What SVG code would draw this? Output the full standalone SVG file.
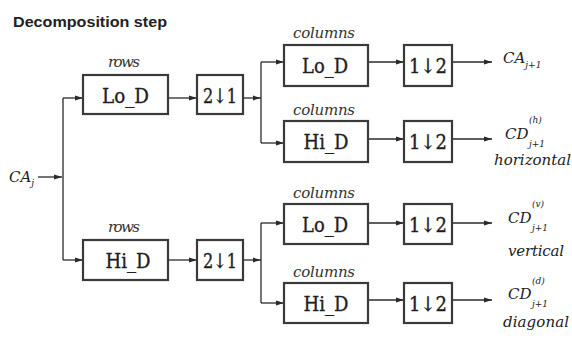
<svg xmlns="http://www.w3.org/2000/svg" width="572" height="338" viewBox="0 0 572 338">
  <style>
    .box { fill: #ffffff; stroke: #3a3a3a; stroke-width: 2.2; }
    .wire { fill: none; stroke: #2a2a2a; stroke-width: 1.3; }
    .op { font-family: "DejaVu Serif", "Liberation Serif", serif; font-size: 20px; fill: #1e1e1e; stroke: #1e1e1e; stroke-width: 0.35; text-anchor: middle; }
    .lbl { font-family: "DejaVu Serif", "Liberation Serif", serif; font-style: italic; font-size: 15px; fill: #333; text-anchor: middle; }
    .sig { font-family: "DejaVu Serif", "Liberation Serif", serif; font-style: italic; font-size: 15px; fill: #222; }
    .sub { font-size: 9px; }
    .title { font-family: "Liberation Sans", Arial, sans-serif; font-weight: bold; font-size: 15px; fill: #222; }
  </style>
  <defs>
    <marker id="arr" viewBox="0 0 8 6" refX="8" refY="3" markerWidth="8" markerHeight="6" markerUnits="userSpaceOnUse" orient="auto">
      <path d="M0,0.6 L8,3 L0,5.4 Z" fill="#2a2a2a"/>
    </marker>
  </defs>

  <text class="title" x="13" y="27" textLength="154" lengthAdjust="spacingAndGlyphs">Decomposition step</text>

  <!-- connectors -->
  <g id="connectors">
    <path class="wire" d="M38,177 H62" marker-end="url(#arr)"/>
    <path class="wire" d="M63,98 V260"/>
    <path class="wire" d="M63,98 H83" marker-end="url(#arr)"/>
    <path class="wire" d="M63,260 H83" marker-end="url(#arr)"/>
    <path class="wire" d="M168,98 H197" marker-end="url(#arr)"/>
    <path class="wire" d="M168,260 H197" marker-end="url(#arr)"/>
    <path class="wire" d="M243,98 H261" marker-end="url(#arr)"/>
    <path class="wire" d="M243,260 H261" marker-end="url(#arr)"/>
    <path class="wire" d="M261,62 V143"/>
    <path class="wire" d="M261,223 V303"/>
    <path class="wire" d="M261,62 H284" marker-end="url(#arr)"/>
    <path class="wire" d="M261,143 H284" marker-end="url(#arr)"/>
    <path class="wire" d="M261,223 H284" marker-end="url(#arr)"/>
    <path class="wire" d="M261,303 H284" marker-end="url(#arr)"/>
    <path class="wire" d="M368,62 H404" marker-end="url(#arr)"/>
    <path class="wire" d="M368,139 H404" marker-end="url(#arr)"/>
    <path class="wire" d="M368,223 H404" marker-end="url(#arr)"/>
    <path class="wire" d="M368,300 H404" marker-end="url(#arr)"/>
    <path class="wire" d="M452,62 H492" marker-end="url(#arr)"/>
    <path class="wire" d="M452,139 H492" marker-end="url(#arr)"/>
    <path class="wire" d="M452,223 H492" marker-end="url(#arr)"/>
    <path class="wire" d="M452,300 H492" marker-end="url(#arr)"/>
  </g>

  <!-- input signal -->
  <g id="in-ca">
    <text class="sig" x="9" y="182">CA<tspan class="sub" dy="4">j</tspan></text>
  </g>

  <!-- row filters -->
  <g id="row-lo">
    <text class="lbl" x="124" y="67" textLength="32">rows</text>
    <rect class="box" x="83" y="75" width="85" height="39"/>
    <text class="op" x="125.5" y="103" textLength="47" lengthAdjust="spacingAndGlyphs">Lo_D</text>
  </g>
  <g id="row-hi">
    <text class="lbl" x="124" y="232" textLength="32">rows</text>
    <rect class="box" x="83" y="240" width="85" height="40"/>
    <text class="op" x="128" y="268" textLength="45" lengthAdjust="spacingAndGlyphs">Hi_D</text>
  </g>

  <!-- column downsampling after rows -->
  <g id="ds-lo">
    <rect class="box" x="197" y="75" width="46" height="39"/>
    <text class="op" x="220" y="103" textLength="34" lengthAdjust="spacingAndGlyphs">2↓1</text>
  </g>
  <g id="ds-hi">
    <rect class="box" x="197" y="240" width="46" height="40"/>
    <text class="op" x="220" y="268" textLength="34" lengthAdjust="spacingAndGlyphs">2↓1</text>
  </g>

  <!-- column filters -->
  <g id="col-lo-lo">
    <text class="lbl" x="324" y="38" textLength="62">columns</text>
    <rect class="box" x="284" y="45" width="84" height="41"/>
    <text class="op" x="325" y="73" textLength="46" lengthAdjust="spacingAndGlyphs">Lo_D</text>
  </g>
  <g id="col-lo-hi">
    <text class="lbl" x="324" y="115" textLength="62">columns</text>
    <rect class="box" x="284" y="121" width="84" height="41"/>
    <text class="op" x="326" y="149" textLength="45" lengthAdjust="spacingAndGlyphs">Hi_D</text>
  </g>
  <g id="col-hi-lo">
    <text class="lbl" x="324" y="198" textLength="62">columns</text>
    <rect class="box" x="284" y="204" width="84" height="40"/>
    <text class="op" x="325" y="232" textLength="46" lengthAdjust="spacingAndGlyphs">Lo_D</text>
  </g>
  <g id="col-hi-hi">
    <text class="lbl" x="324" y="277" textLength="62">columns</text>
    <rect class="box" x="284" y="283" width="84" height="40"/>
    <text class="op" x="326" y="311" textLength="45" lengthAdjust="spacingAndGlyphs">Hi_D</text>
  </g>

  <!-- row downsampling -->
  <g id="ds-1">
    <rect class="box" x="404" y="45" width="48" height="41"/>
    <text class="op" x="428" y="73" textLength="38" lengthAdjust="spacingAndGlyphs">1↓2</text>
  </g>
  <g id="ds-2">
    <rect class="box" x="404" y="121" width="48" height="41"/>
    <text class="op" x="428" y="149" textLength="38" lengthAdjust="spacingAndGlyphs">1↓2</text>
  </g>
  <g id="ds-3">
    <rect class="box" x="404" y="204" width="48" height="40"/>
    <text class="op" x="428" y="232" textLength="38" lengthAdjust="spacingAndGlyphs">1↓2</text>
  </g>
  <g id="ds-4">
    <rect class="box" x="404" y="283" width="48" height="40"/>
    <text class="op" x="428" y="311" textLength="38" lengthAdjust="spacingAndGlyphs">1↓2</text>
  </g>

  <!-- outputs -->
  <g id="out-ca">
    <text class="sig" x="503" y="63">CA<tspan class="sub" dy="5">j+1</tspan></text>
  </g>
  <g id="out-h">
    <text class="sig" x="505" y="139">CD</text>
    <text class="sig sub" x="529" y="123">(h)</text>
    <text class="sig sub" x="529" y="147">j+1</text>
    <text class="sig" x="494" y="165" textLength="77">horizontal</text>
  </g>
  <g id="out-v">
    <text class="sig" x="508" y="223">CD</text>
    <text class="sig sub" x="532" y="207">(v)</text>
    <text class="sig sub" x="532" y="231">j+1</text>
    <text class="sig" x="508" y="256" textLength="56">vertical</text>
  </g>
  <g id="out-d">
    <text class="sig" x="508" y="299">CD</text>
    <text class="sig sub" x="532" y="284">(d)</text>
    <text class="sig sub" x="532" y="307">j+1</text>
    <text class="sig" x="503" y="327" textLength="66">diagonal</text>
  </g>
</svg>
